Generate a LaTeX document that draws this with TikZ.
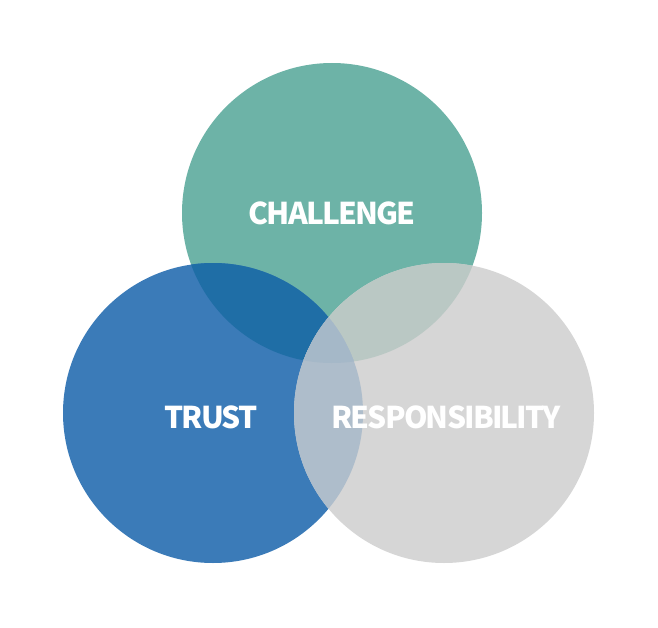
\documentclass[tikz,border=0pt]{standalone}
\usepackage{fontspec}
\newfontfamily\labelfont[LetterSpace=-6]{Noto Sans CJK KR}
\definecolor{cteal}{HTML}{6DB3A7}
\definecolor{cblue}{HTML}{3B7BB8}
\definecolor{cgray}{HTML}{D6D6D6}
\definecolor{cbt}{HTML}{1F6EA6}
\definecolor{cgt}{HTML}{BAC8C4}
\definecolor{cgb}{HTML}{AEBDCB}
\definecolor{call}{HTML}{A5B8C8}
\tikzset{
  lbl/.style={text=white, font=\labelfont\bfseries\fontsize{30}{30}\selectfont, inner sep=0pt}
}
\begin{document}
\begin{tikzpicture}[x=1pt,y=-1pt]
\useasboundingbox (0,0) rectangle (658,628);
\def\Ra{150}
\coordinate (C) at (332,213);
\coordinate (T) at (213,413);
\coordinate (R) at (444,413);
\fill[cteal] (C) circle (\Ra);
\fill[cblue] (T) circle (\Ra);
\fill[cgray] (R) circle (\Ra);
\begin{scope}
  \clip (C) circle (\Ra);
  \fill[cbt] (T) circle (\Ra);
  \fill[cgt] (R) circle (\Ra);
  \clip (T) circle (\Ra);
  \fill[call] (R) circle (\Ra);
\end{scope}
\begin{scope}
  \clip (T) circle (\Ra);
  \clip (R) circle (\Ra);
  \fill[cgb] (R) circle (\Ra);
  \clip (C) circle (\Ra);
  \fill[call] (C) circle (\Ra);
\end{scope}
\node[lbl] (challenge) at (332,213) {CHALLENGE};
\node[lbl] (trust) at (211,417) {TRUST};
\node[lbl] (resp) at (446,417) {RESPONSIBILITY};
\end{tikzpicture}
\end{document}
